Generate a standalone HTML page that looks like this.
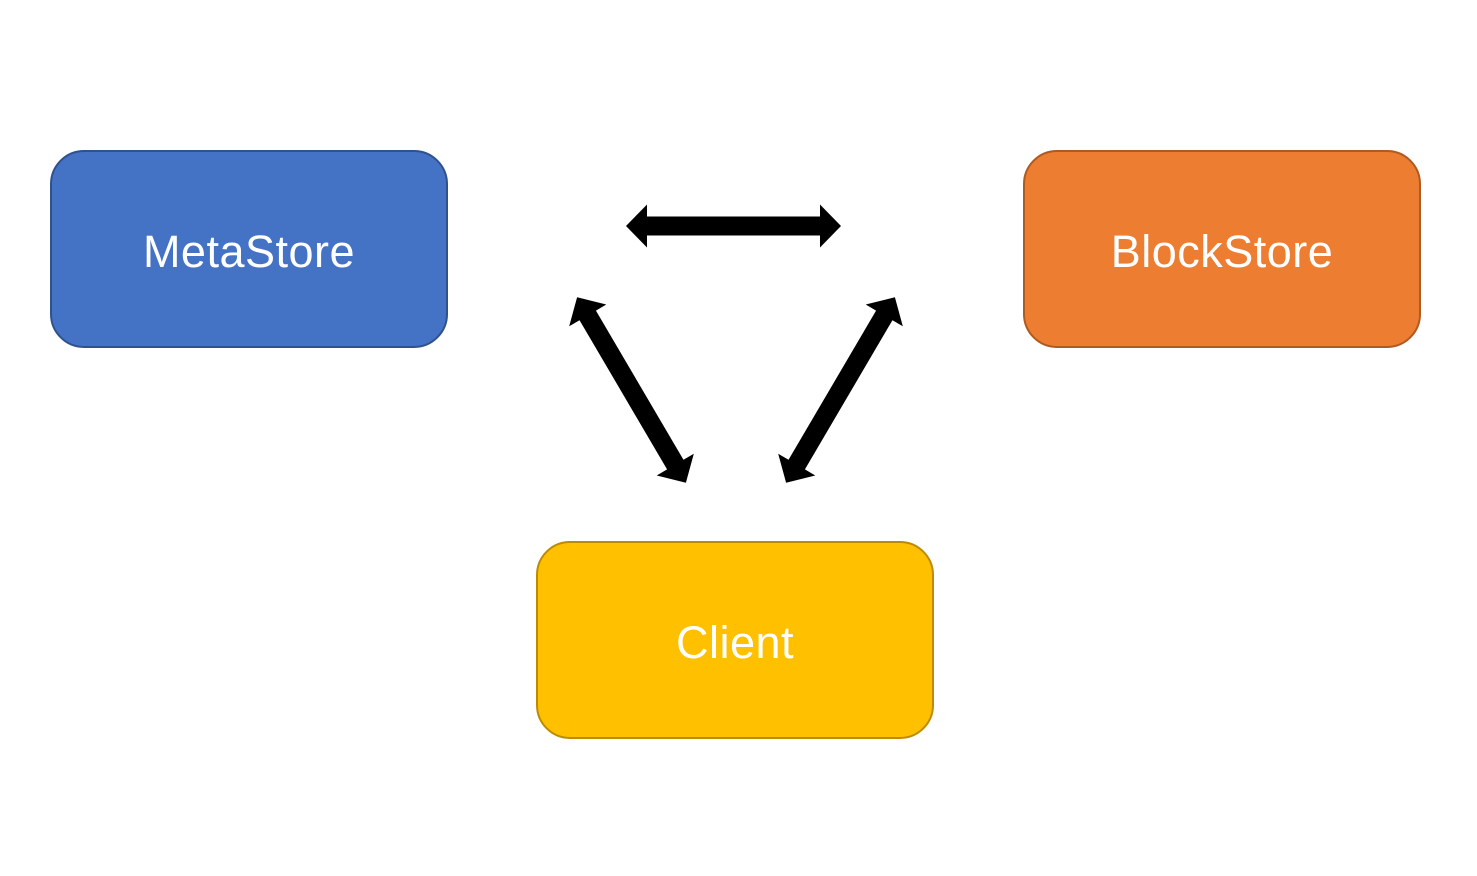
<!DOCTYPE html>
<html><head><meta charset="utf-8"><style>
html,body{margin:0;padding:0;background:#fff;}
body{width:1477px;height:876px;position:relative;overflow:hidden;font-family:"Liberation Sans",sans-serif;}
.b{position:absolute;width:394px;height:194px;border-radius:34px;border:2px solid;display:flex;align-items:center;justify-content:center;color:#fff;font-size:45px;box-sizing:content-box;padding-top:0;}
.b span{position:relative;top:3px;letter-spacing:0.5px;}
</style></head><body>
<div class="b" style="left:50px;top:150px;background:#4472C4;border-color:#2F528F;"><span>MetaStore</span></div>
<div class="b" style="left:1023px;top:150px;background:#ED7D31;border-color:#AE5A21;"><span>BlockStore</span></div>
<div class="b" style="left:536px;top:541px;background:#FFC000;border-color:#BC8C00;"><span>Client</span></div>
<svg width="1477" height="876" style="position:absolute;left:0;top:0">
<defs><path id="a" d="M-107.5,0 L-86.5,-21.5 L-86.5,-9.5 L86.5,-9.5 L86.5,-21.5 L107.5,0 L86.5,21.5 L86.5,9.5 L-86.5,9.5 L-86.5,21.5 Z" fill="#000"/></defs>
<use href="#a" transform="translate(733.5,226)"/>
<use href="#a" transform="translate(631.5,390) rotate(59.6)"/>
<use href="#a" transform="translate(840.5,390) rotate(-59.6)"/>
</svg>
</body></html>
